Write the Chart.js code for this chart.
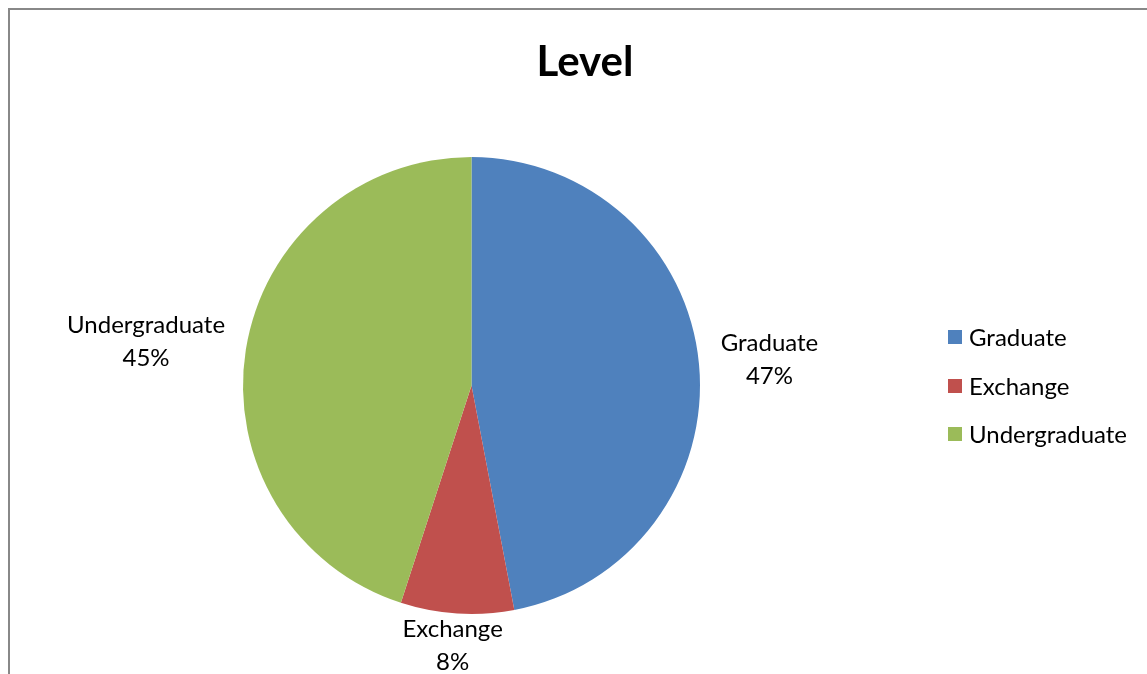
<!DOCTYPE html>
<html>
<head>
<meta charset="utf-8">
<script src="https://cdn.jsdelivr.net/npm/chart.js@4.4.0/dist/chart.umd.min.js"></script>
<style>
  html, body { margin: 0; padding: 0; background: #fff; overflow: hidden; }
  #frame {
    position: absolute; left: 8px; top: 8px; width: 1200px; height: 700px;
    border: 2px solid #888;
  }
  #wrap { position: absolute; left: 0; top: 0; width: 1147px; height: 674px; }
  .legend { position: absolute; left: 948px; top: 0; font: 24px Lato, sans-serif; color: #000; }
  .legend div { position: absolute; white-space: nowrap; height: 24px; line-height: 24px; }
  .legend span.box { position: absolute; left: 0; top: 5px; width: 14px; height: 14px; }
  .legend span.txt { position: absolute; left: 21px; top: 0; }
</style>
</head>
<body>
<div id="frame"></div>
<div id="wrap"><canvas id="pieChart" width="1147" height="674"></canvas></div>
<div class="legend" id="legend"></div>
<script>
// data
var categories = ["Graduate", "Exchange", "Undergraduate"];
var values = [47, 8, 45];
var colors = ["#4F81BD", "#C0504D", "#9BBB59"];
var chartTitle = "Level";

// legend on the right (html)
var legend = document.getElementById("legend");
var legendTop = [325, 374, 422];
categories.forEach(function (name, i) {
  var row = document.createElement("div");
  row.style.top = legendTop[i] + "px";
  row.innerHTML = '<span class="box" style="background:' + colors[i] + '"></span><span class="txt">' + name + "</span>";
  legend.appendChild(row);
});

// title + labels outside each slice (name + percent)
var outsideLabels = {
  id: "outsideLabels",
  afterDatasetsDraw: function (chart) {
    var ctx = chart.ctx;
    var meta = chart.getDatasetMeta(0);
    var total = values.reduce(function (a, b) { return a + b; }, 0);
    ctx.save();
    ctx.fillStyle = "#000";
    ctx.textAlign = "center";
    ctx.textBaseline = "middle";

    ctx.font = "bold 42px Lato, sans-serif";
    ctx.fillText(chartTitle, 585, 62);

    ctx.font = "24px Lato, sans-serif";
    meta.data.forEach(function (arc, i) {
      var mid = (arc.startAngle + arc.endAngle) / 2;
      var dx = Math.cos(mid), dy = Math.sin(mid);
      var line1 = categories[i];
      var line2 = Math.round(values[i] / total * 100) + "%";
      var w = ctx.measureText(line1).width;
      var h = 66;
      var r = arc.outerRadius + 22;
      var cx = arc.x + dx * (r + w / 2);
      var cy = arc.y + dy * (r + h / 2);
      if (cy > 645) cy = 645;
      ctx.fillText(line1, cx, cy - 16);
      ctx.fillText(line2, cx, cy + 17);
    });
    ctx.restore();
  }
};

var ctx = document.getElementById("pieChart").getContext("2d");
var pieChart = new Chart(ctx, {
  type: "pie",
  data: {
    labels: categories,
    datasets: [
      {
        data: values,
        backgroundColor: colors,
        borderWidth: 0,
      },
    ],
  },
  options: {
    responsive: false,
    animation: false,
    layout: {
      padding: { left: 243, top: 157, right: 447, bottom: 60 },
    },
    plugins: {
      legend: { display: false },
      tooltip: { enabled: false },
      title: { display: false },
    },
  },
  plugins: [outsideLabels],
});
</script>
</body>
</html>
